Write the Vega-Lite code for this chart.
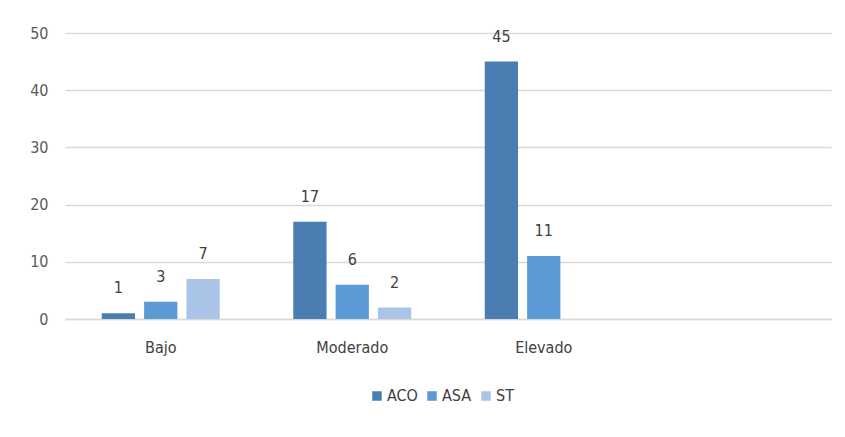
{
  "$schema": "https://vega.github.io/schema/vega-lite/v6.json",
  "autosize": {"type": "none"},
  "width": 766,
  "height": 286,
  "padding": {"left": 65, "top": 33, "right": 14, "bottom": 118},
  "background": "white",
  "config": {
    "view": {"stroke": null},
    "font": "DejaVu Sans Condensed, Roboto, sans-serif"
  },
  "data": {
    "values": [
      {"nivel": "Bajo", "grupo": "ACO", "valor": 1},
      {"nivel": "Bajo", "grupo": "ASA", "valor": 3},
      {"nivel": "Bajo", "grupo": "ST", "valor": 7},
      {"nivel": "Moderado", "grupo": "ACO", "valor": 17},
      {"nivel": "Moderado", "grupo": "ASA", "valor": 6},
      {"nivel": "Moderado", "grupo": "ST", "valor": 2},
      {"nivel": "Elevado", "grupo": "ACO", "valor": 45},
      {"nivel": "Elevado", "grupo": "ASA", "valor": 11}
    ]
  },
  "encoding": {
    "x": {
      "field": "nivel", "type": "nominal",
      "scale": {"domain": ["Bajo", "Moderado", "Elevado", " "], "paddingInner": 0.384, "paddingOuter": 0.192},
      "axis": {"title": null, "labelAngle": 0, "ticks": false, "domainColor": "#d9d9d9", "domainWidth": 1.5, "labelFontSize": 16, "labelColor": "#404040", "labelPadding": 20}
    },
    "xOffset": {
      "field": "grupo", "type": "nominal",
      "scale": {"domain": ["ACO", "ASA", "ST"], "paddingInner": 0.214, "paddingOuter": 0}
    },
    "y": {
      "field": "valor", "type": "quantitative",
      "scale": {"domain": [0, 50]},
      "axis": {"title": null, "values": [0, 10, 20, 30, 40, 50], "domain": false, "ticks": false, "gridColor": "#d9d9d9", "gridWidth": 1.5, "labelFontSize": 16, "labelColor": "#595959", "labelPadding": 17}
    }
  },
  "layer": [
    {
      "mark": {"type": "bar"},
      "encoding": {
        "color": {
          "field": "grupo", "type": "nominal",
          "scale": {"domain": ["ACO", "ASA", "ST"], "range": ["#4a7eb3", "#5b9bd5", "#a9c4e7"]},
          "legend": {
            "title": null, "orient": "none", "direction": "horizontal",
            "legendX": 304, "legendY": 355,
            "symbolType": "square", "symbolSize": 90, "symbolStrokeWidth": 0,
            "labelFontSize": 16, "labelColor": "#404040", "labelOffset": 2,
            "columnPadding": 6
          }
        }
      }
    },
    {
      "mark": {"type": "text", "baseline": "alphabetic", "dy": -20, "fontSize": 16, "color": "#404040"},
      "encoding": {"text": {"field": "valor", "type": "quantitative"}}
    }
  ]
}
